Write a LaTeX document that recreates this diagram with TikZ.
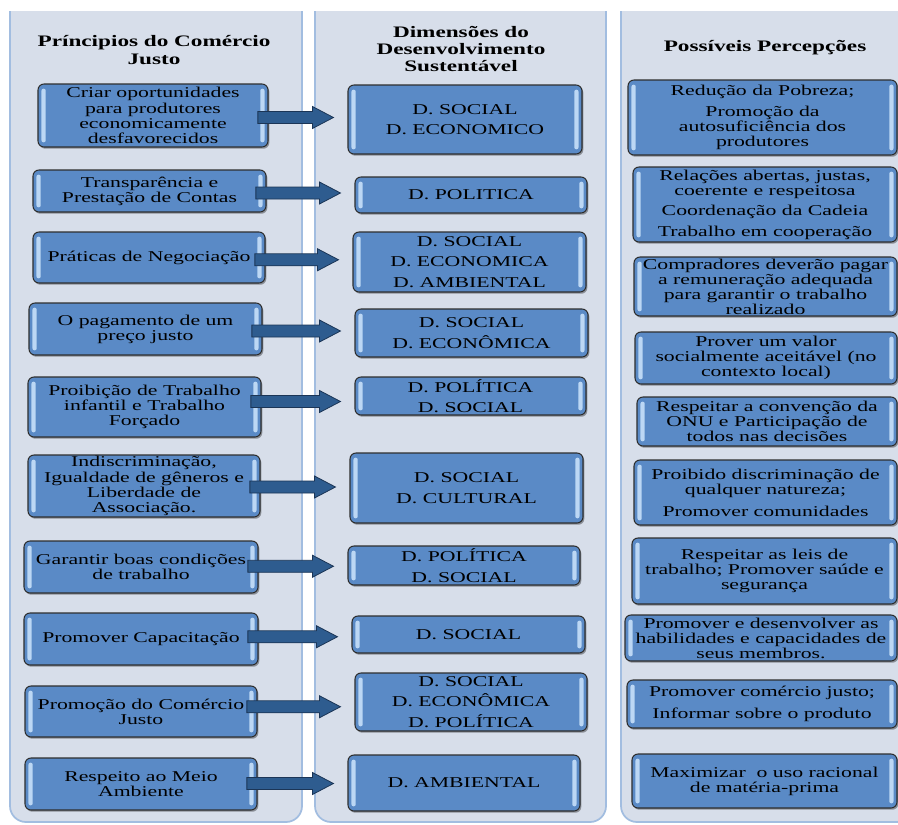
\documentclass[tikz,border=0pt]{standalone}
\usepackage{fontspec}
\setmainfont[FakeStretch=1.45]{Liberation Serif}
\usetikzlibrary{calc,shadows}
\definecolor{panelfill}{HTML}{D7DEEA}
\definecolor{panelline}{HTML}{A2BDE0}
\definecolor{boxfill}{HTML}{5A8AC6}
\definecolor{boxline}{HTML}{2E2E2E}
\definecolor{glossc}{HTML}{BCD7F4}
\definecolor{arrowfill}{HTML}{2E5C8F}
\definecolor{arrowline}{HTML}{1B3556}
\tikzset{
  pbox/.style={draw=boxline, line width=0.8pt, rounded corners=4.5pt, fill=boxfill,
    align=center, inner sep=0pt, text=black,
    font=\fontsize{11.25}{11.4}\selectfont,
    drop shadow={shadow xshift=1pt, shadow yshift=-1.3pt, opacity=0.35, fill=black},
    path picture={
      \fill[glossc, rounded corners=1.5pt]
        ([xshift=2.6pt,yshift=-3.5pt]path picture bounding box.north west) rectangle
        ([xshift=5.8pt,yshift=3.5pt]path picture bounding box.south west);
      \fill[glossc, rounded corners=1.5pt]
        ([xshift=-2.6pt,yshift=-3.5pt]path picture bounding box.north east) rectangle
        ([xshift=-5.8pt,yshift=3.5pt]path picture bounding box.south east);
    }},
  mbox/.style={pbox, font=\fontsize{11.25}{15.5}\selectfont},
  rbox/.style={pbox, font=\fontsize{11.25}{11.3}\selectfont},
  hdr/.style={font=\bfseries\fontsize{12}{13}\selectfont, align=center, inner sep=0pt},
  panel/.style={fill=panelfill, draw=panelline, line width=1.3pt, rounded corners=12pt},
  barrow/.style={fill=arrowfill, draw=arrowline, line width=0.6pt, line join=miter}
}
\newcommand\mkbox[7]{\node[#1, minimum width={(#5-#3)*0.75pt}, minimum height={(#6-#4)*0.75pt}] (#2) at ({(#3+#5)/2},{(#4+#6)/2}) {#7};}
\newcommand\mkarrow[2]{\draw[barrow] let \p1=(#1.east), \p2=(#2.west), \p3=($(#1.east)!.5!(#2.west)$) in
  (\x1-8pt,\y3+4.5pt) -- (\x2-26.25pt,\y3+4.5pt) -- (\x2-26.25pt,\y3+8.25pt) -- (\x2-10.5pt,\y3)
  -- (\x2-26.25pt,\y3-8.25pt) -- (\x2-26.25pt,\y3-4.5pt) -- (\x1-8pt,\y3-4.5pt) -- cycle;}
\begin{document}
\begin{tikzpicture}[x=0.75pt, y=-0.75pt]
\useasboundingbox (0,0) rectangle (898,824);
\fill[white] (0,0) rectangle (898,824);
\begin{scope}
\clip (0,12) rectangle (898,824);
\draw[panel] (10,-20) rectangle (302,822);
\draw[panel] (315,-20) rectangle (606,822);
\draw[panel] (621,-20) rectangle (930,822);
\end{scope}
% headers
\node[hdr] (h1) at (154,50) {Príncipios do Comércio\\Justo};
\node[hdr] (h2) at (461,49) {Dimensões do\\Desenvolvimento\\Sustentável};
\node[hdr] (h3) at (765,48) {Possíveis Percepções};
% left column
\mkbox{pbox}{l1}{38}{84}{268}{147}{Criar oportunidades\\para produtores\\economicamente\\desfavorecidos}
\mkbox{pbox}{l2}{33}{170}{266}{212}{Transparência e\\Prestação de Contas}
\mkbox{pbox}{l3}{33}{232}{265}{283}{Práticas de Negociação}
\mkbox{pbox}{l4}{29}{303}{262}{355}{O pagamento de um\\preço justo}
\mkbox{pbox}{l5}{28}{377}{261}{437}{Proibição de Trabalho\\infantil e Trabalho\\Forçado}
\mkbox{pbox}{l6}{28}{455}{260}{517}{Indiscriminação,\\Igualdade de gêneros e\\Liberdade de\\Associação.}
\mkbox{pbox}{l7}{24}{541}{258}{593}{Garantir boas condições\\de trabalho}
\mkbox{pbox}{l8}{24}{613}{258}{665}{Promover Capacitação}
\mkbox{pbox}{l9}{25}{686}{257}{737}{Promoção do Comércio\\Justo}
\mkbox{pbox}{l10}{25}{758}{257}{810}{Respeito ao Meio\\Ambiente}
% middle column
\mkbox{mbox}{m1}{348}{85}{582}{154}{D. SOCIAL\\D. ECONOMICO}
\mkbox{mbox}{m2}{355}{177}{587}{213}{D. POLITICA}
\mkbox{mbox}{m3}{353}{232}{586}{292}{D. SOCIAL\\D. ECONOMICA\\D. AMBIENTAL}
\mkbox{mbox}{m4}{355}{309}{588}{357}{D. SOCIAL\\D. ECONÔMICA}
\mkbox{mbox}{m5}{355}{377}{586}{415}{D. POLÍTICA\\D. SOCIAL}
\mkbox{mbox}{m6}{350}{453}{583}{523}{D. SOCIAL\\D. CULTURAL}
\mkbox{mbox}{m7}{348}{546}{580}{585}{D. POLÍTICA\\D. SOCIAL}
\mkbox{mbox}{m8}{352}{616}{585}{653}{D. SOCIAL}
\mkbox{mbox}{m9}{355}{673}{587}{731}{D. SOCIAL\\D. ECONÔMICA\\D. POLÍTICA}
\mkbox{mbox}{m10}{348}{755}{580}{811}{D. AMBIENTAL}
% right column
\mkbox{rbox}{r1}{628}{80}{897}{155}{Redução da Pobreza;\\[4pt]Promoção da\\autosuficiência dos\\produtores}
\mkbox{rbox}{r2}{633}{167}{897}{242}{Relações abertas, justas,\\coerente e respeitosa\\[4pt]Coordenação da Cadeia\\[4pt]Trabalho em cooperação}
\mkbox{rbox}{r3}{634}{257}{897}{316}{Compradores deverão pagar\\a remuneração adequada\\para garantir o trabalho\\realizado}
\mkbox{rbox}{r4}{635}{332}{897}{384}{Prover um valor\\socialmente aceitável (no\\contexto local)}
\mkbox{rbox}{r5}{637}{397}{897}{446}{Respeitar a convenção da\\ONU e Participação de\\todos nas decisões}
\mkbox{rbox}{r6}{634}{460}{897}{525}{Proibido discriminação de\\qualquer natureza;\\[5pt]Promover comunidades}
\mkbox{rbox}{r7}{632}{538}{897}{604}{Respeitar as leis de\\trabalho; Promover saúde e\\segurança}
\mkbox{rbox}{r8}{625}{615}{897}{661}{Promover e desenvolver as\\habilidades e capacidades de\\seus membros.}
\mkbox{rbox}{r9}{627}{680}{897}{728}{Promover comércio justo;\\[5pt]Informar sobre o produto}
\mkbox{rbox}{r10}{632}{754}{897}{808}{Maximizar\ \ o uso racional\\de matéria-prima}
% arrows
\mkarrow{l1}{m1}
\mkarrow{l2}{m2}
\mkarrow{l3}{m3}
\mkarrow{l4}{m4}
\mkarrow{l5}{m5}
\mkarrow{l6}{m6}
\mkarrow{l7}{m7}
\mkarrow{l8}{m8}
\mkarrow{l9}{m9}
\mkarrow{l10}{m10}
\end{tikzpicture}
\end{document}
